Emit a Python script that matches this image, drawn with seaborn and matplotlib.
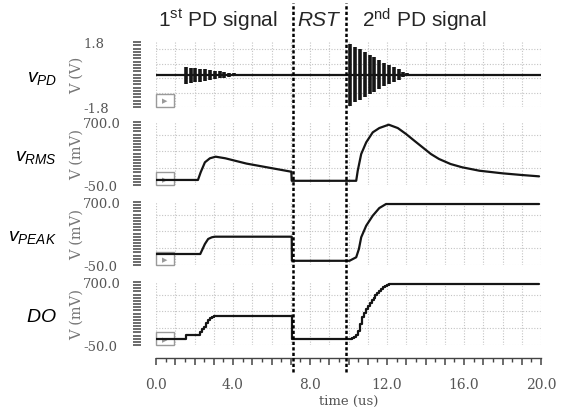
import seaborn as sns
import matplotlib.pyplot as plt
import matplotlib.transforms as mtransforms
from matplotlib.ticker import MultipleLocator, FixedLocator, FuncFormatter
from matplotlib.patches import Rectangle
from matplotlib.lines import Line2D

# --- values (time in us) ---
# v_PD: flat trace at 0 V with two decaying ringing bursts
vpd_t = [0.0, 20.0]
vpd_v = [0.0, 0.0]
burst1_t = [1.55, 1.8, 2.05, 2.3, 2.55, 2.8, 3.05, 3.3, 3.55, 3.8, 4.05, 4.3]
burst1_top = [0.42, 0.38, 0.35, 0.32, 0.28, 0.25, 0.21, 0.18, 0.14, 0.10, 0.06, 0.03]
burst1_bot = [-0.52, -0.47, -0.43, -0.39, -0.35, -0.31, -0.27, -0.22, -0.18, -0.13, -0.08, -0.04]
burst2_t = [10.1, 10.35, 10.6, 10.85, 11.1, 11.35, 11.6, 11.85, 12.1, 12.35, 12.6, 12.85, 13.05]
burst2_top = [1.70, 1.55, 1.40, 1.25, 1.10, 0.95, 0.80, 0.66, 0.52, 0.40, 0.28, 0.16, 0.06]
burst2_bot = [-1.72, -1.55, -1.40, -1.25, -1.10, -0.95, -0.80, -0.66, -0.52, -0.40, -0.28, -0.16, -0.06]

# v_RMS (mV)
rms_t = [0.0, 2.18, 2.32, 2.54, 2.8, 3.1, 3.6, 4.7, 5.9, 7.03, 7.05, 10.4, 10.48, 10.66,
         10.92, 11.26, 11.6, 12.09, 12.56, 12.99, 13.42, 13.85, 14.28, 14.7, 15.3, 15.9,
         16.8, 18.0, 19.0, 19.9]
rms_v = [10, 10, 101, 220, 268, 287, 268, 205, 155, 108, 0, 0, 120, 319,
         458, 577, 628, 668, 628, 557, 477, 398, 319, 260, 200, 161,
         120, 89, 69, 53]

# v_PEAK (mV)
peak_t = [0.0, 2.3, 2.54, 2.71, 2.9, 3.06, 7.05, 7.06, 10.05, 10.4, 10.54, 10.66,
          10.92, 11.26, 11.6, 11.95, 19.9]
peak_v = [81, 81, 200, 260, 280, 287, 287, 0, 0, 42, 140, 280,
          418, 537, 628, 676, 676]

# DO (mV), stepped digital output
do_t = [0.0, 1.55, 2.3, 2.4, 2.5, 2.6, 2.7, 2.8, 2.9, 3.0, 7.06, 10.2, 10.3, 10.4, 10.5,
        10.6, 10.7, 10.8, 10.9, 11.0, 11.1, 11.2, 11.3, 11.4, 11.5, 11.6, 11.7, 11.8,
        11.9, 12.0, 12.1, 19.9]
do_v = [20, 70, 100, 135, 170, 210, 245, 268, 282, 290, 20, 30, 45, 70, 120,
        200, 280, 335, 378, 415, 448, 480, 510, 540, 567, 593, 617, 637,
        655, 668, 676, 676]

# reset window edges (us)
rst_edges = [7.1, 9.85]

panel_names = [r'$v_{PD}$', r'$v_{RMS}$', r'$v_{PEAK}$', r'$DO$']
y_units = ['V (V)', 'V (mV)', 'V (mV)', 'V (mV)']
y_limits = [(-1.8, 1.8), (-50, 700), (-50, 700), (-50, 700)]
y_ticklabels = [['-1.8', '1.8'], ['-50.0', '700.0'], ['-50.0', '700.0'], ['-50.0', '700.0']]
y_gridvals = [[-1.0, -0.2, 0.6, 1.4], [150, 350, 550], [150, 350, 550], [150, 350, 550]]

sns.set_style('white')
plt.rcParams['font.family'] = ['Liberation Sans', 'DejaVu Sans']
plt.rcParams['mathtext.fontset'] = 'custom'
plt.rcParams['mathtext.rm'] = 'Liberation Sans'
plt.rcParams['mathtext.it'] = 'Liberation Sans:italic'
plt.rcParams['mathtext.bf'] = 'Liberation Sans:bold'

W, H = 562, 410
fig = plt.figure(figsize=(W / 100, H / 100), dpi=100)

# panel boxes in pixels: (top, bottom)
boxes = [(43, 108), (123, 186), (203, 266), (283, 346)]
x_left, x_right = 156, 541

trace_color = '#151515'
grid_color = '#c4c4c4'
axes = []
for i, (top, bot) in enumerate(boxes):
    ax = fig.add_axes([x_left / W, 1 - bot / H, (x_right - x_left) / W, (bot - top) / H])
    axes.append(ax)
    ax.set_xlim(0, 20)
    ax.set_ylim(*y_limits[i])

    # grid
    ax.xaxis.set_major_locator(MultipleLocator(1))
    ax.xaxis.set_minor_locator(MultipleLocator(0.5))
    ax.grid(axis='x', which='major', color=grid_color, linestyle=(0, (1, 1.5)), lw=0.8)
    for gv in y_gridvals[i]:
        ax.axhline(gv, color=grid_color, linestyle=(0, (1, 1.5)), lw=0.8, zorder=0)
    ax.axhline(y_limits[i][0], color='#dddddd', linestyle=(0, (1, 1.5)), lw=0.8, zorder=0)

    for s in ['top', 'right']:
        ax.spines[s].set_visible(False)
    ax.spines['left'].set_position(('outward', 11))
    ax.spines['left'].set_linewidth(0)

    # y ruler ticks
    lo, hi = y_limits[i]
    ax.yaxis.set_major_locator(FixedLocator([lo, hi]))
    ax.yaxis.set_minor_locator(FixedLocator([lo + k * (hi - lo) / 20 for k in range(21)]))
    ax.set_yticklabels(y_ticklabels[i], family='DejaVu Serif', fontsize=9.5, color='#555555')
    ax.tick_params(axis='y', which='both', direction='out', length=5.5, width=1.1,
                   color='#444444', left=True)
    ax.tick_params(axis='y', which='major', pad=36)
    for lbl in ax.get_yticklabels():
        lbl.set_horizontalalignment('left')
    ax.set_ylabel(y_units[i], family='DejaVu Serif', fontsize=10.5, color='#777777', va='center')
    ax.yaxis.set_label_coords(-0.205, 0.5)

    if i < 3:
        ax.spines['bottom'].set_visible(False)
        ax.tick_params(axis='x', which='both', bottom=False, labelbottom=False)
    else:
        ax.spines['bottom'].set_position(('outward', 9))
        ax.spines['bottom'].set_color('#444444')
        ax.spines['bottom'].set_linewidth(1.0)
        ax.tick_params(axis='x', which='major', direction='out', length=5, width=1.1,
                       color='#444444', bottom=True, pad=9, labelsize=10, labelcolor='#555555')
        ax.tick_params(axis='x', which='minor', direction='out', length=3, width=1.0,
                       color='#444444', bottom=True)
        ax.xaxis.set_major_formatter(FuncFormatter(lambda v, p: f'{v:.1f}' if round(v) % 4 == 0 else ''))
        for lbl in ax.get_xticklabels():
            lbl.set_family('DejaVu Serif')
        ax.set_xlabel('time (us)', family='DejaVu Serif', fontsize=9.5, color='#555555', labelpad=2)

    # small marker box at bottom left
    ax.add_patch(Rectangle((0.0, 0.0), 0.047, 0.2, transform=ax.transAxes, fill=False,
                           edgecolor='#9a9a9a', lw=1.0, zorder=1, clip_on=False))
    ax.text(0.0235, 0.1, '\u25b6', transform=ax.transAxes, ha='center', va='center',
            fontsize=5, color='#9a9a9a', family='DejaVu Sans', zorder=1)

    fig.text(57 / W, 1 - ((top + bot) / 2 + 3) / H, panel_names[i], ha='right', va='center',
             fontsize=14, color='black')

# traces
sns.lineplot(x=vpd_t, y=vpd_v, ax=axes[0], color=trace_color, lw=1.6, estimator=None, sort=False)
axes[0].vlines(burst1_t, burst1_bot, burst1_top, color=trace_color, lw=2.6)
axes[0].vlines(burst2_t, burst2_bot, burst2_top, color=trace_color, lw=2.6)
sns.lineplot(x=rms_t, y=rms_v, ax=axes[1], color=trace_color, lw=1.6, estimator=None, sort=False)
sns.lineplot(x=peak_t, y=peak_v, ax=axes[2], color=trace_color, lw=1.6, estimator=None, sort=False)
sns.lineplot(x=do_t, y=do_v, ax=axes[3], color=trace_color, lw=1.6, estimator=None, sort=False,
             drawstyle='steps-post')
for ax in axes[:3]:
    ax.set_xlabel('')

# reset window markers spanning the whole stack
trans = mtransforms.blended_transform_factory(axes[-1].transData, fig.transFigure)
for xe in rst_edges:
    fig.add_artist(Line2D([xe, xe], [1 - 373 / H, 1 - 4 / H], transform=trans, color='black',
                          lw=1.8, linestyle=(0, (1.3, 0.9))))

# headings
fig.text(158 / W, 1 - 20 / H, r'1$^{\mathrm{st}}$ PD signal', ha='left', va='center', fontsize=15)
fig.text(318 / W, 1 - 20 / H, 'RST', ha='center', va='center', fontsize=15, style='italic')
fig.text(362 / W, 1 - 20 / H, r'2$^{\mathrm{nd}}$ PD signal', ha='left', va='center', fontsize=15)

fig.savefig('out.png', dpi=100)
